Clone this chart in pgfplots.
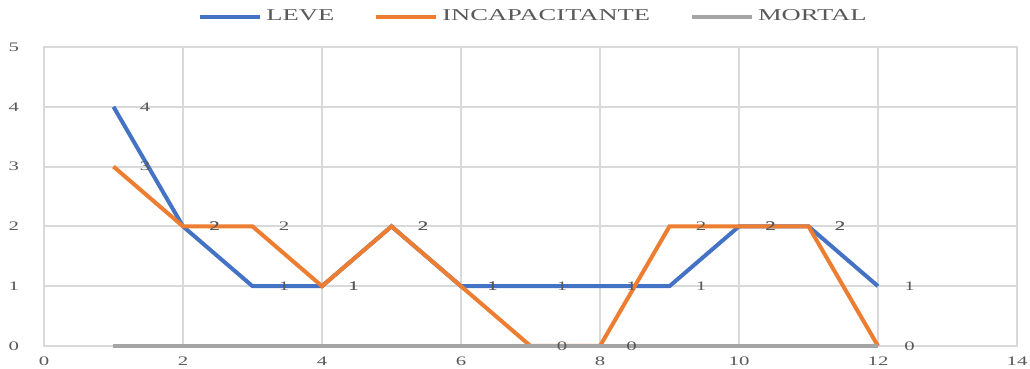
\documentclass[border=0pt]{standalone}
\usepackage{fontspec}
\setmainfont{Liberation Serif}[FakeStretch=1.6]
\usepackage{pgfplots}
\pgfplotsset{compat=1.18}

\definecolor{leve}{HTML}{4472C4}
\definecolor{incap}{HTML}{ED7D31}
\definecolor{mortal}{HTML}{A5A5A5}
\definecolor{gridgray}{HTML}{D9D9D9}
\definecolor{txtgray}{HTML}{595959}

\begin{document}
\begin{tikzpicture}
\begin{axis}[
  scale only axis,
  width=486.5bp, height=149.5bp,
  xmin=0, xmax=14, ymin=0, ymax=5,
  xtick={0,2,...,14}, ytick={0,1,...,5},
  grid=major,
  major grid style={draw=gridgray, line width=1bp},
  axis line style={draw=gridgray, line width=1bp},
  major tick length=0pt,
  tick style={draw=none},
  /pgf/number format/assume math mode=true,
  tick label style={font=\fontsize{6.5bp}{7.5bp}\selectfont, text=txtgray},
  x tick label style={yshift=-2bp},
  y tick label style={xshift=-9bp},
  clip=false,
  legend columns=3,
  legend style={at={(0.5,1)}, anchor=center, yshift=15bp, xshift=2bp,
    draw=none, fill=none, font=\fontsize{8.3bp}{9bp}\selectfont, text=txtgray,
    /tikz/every even column/.append style={column sep=18bp}},
  legend image code/.code={\draw[#1, line width=2bp] (0bp,0bp) -- (30bp,0bp);},
  every axis plot/.append style={line width=2bp},
  value label/.style={
    nodes near coords,
    every node near coord/.append style={anchor=center, xshift=15.75bp,
      font=\fontsize{6.5bp}{7.5bp}\selectfont, text=txtgray}},
]
\addplot[leve, value label] coordinates {
  (1,4) (2,2) (3,1) (4,1) (5,2) (6,1) (7,1) (8,1) (9,1) (10,2) (11,2) (12,1)};
\addlegendentry{LEVE}
\addplot[incap, value label] coordinates {
  (1,3) (2,2) (3,2) (4,1) (5,2) (6,1) (7,0) (8,0) (9,2) (10,2) (11,2) (12,0)};
\addlegendentry{INCAPACITANTE}
\addplot[mortal] coordinates {
  (1,0) (2,0) (3,0) (4,0) (5,0) (6,0) (7,0) (8,0) (9,0) (10,0) (11,0) (12,0)};
\addlegendentry{MORTAL}
\end{axis}
\pgfresetboundingbox
\path ([shift={(-22bp,-11.5bp)}]current axis.south west)
  rectangle ([shift={(6.5bp,23.5bp)}]current axis.north east);
\end{tikzpicture}
\end{document}
